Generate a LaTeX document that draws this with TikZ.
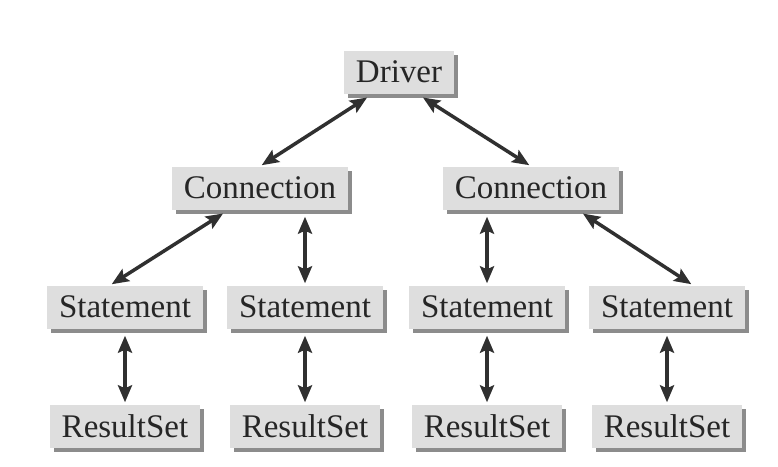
\documentclass[tikz,border=0pt]{standalone}
\usepackage{fontspec}
\setmainfont{Liberation Serif}
\usetikzlibrary{arrows.meta,shadows,calc}
\definecolor{boxgray}{HTML}{DEDEDE}
\definecolor{shadegray}{HTML}{8C8C8C}
\definecolor{txtgray}{HTML}{262626}
\definecolor{arrgray}{HTML}{303030}
\begin{document}
\begin{tikzpicture}[x=1pt,y=-1pt,
	box/.style={fill=boxgray,text=txtgray,inner xsep=12pt,minimum height=43pt,
		font=\fontsize{33}{39}\selectfont,
		drop shadow={shadow xshift=4pt,shadow yshift=-4pt,fill=shadegray,opacity=1}},
	link/.style={{Stealth[length=17pt,width=14pt,inset=3pt]}-{Stealth[length=17pt,width=14pt,inset=3pt]},
		line width=3.5pt,draw=arrgray,shorten <=7pt,shorten >=2pt}]
		\useasboundingbox (0,0) rectangle (778,466);
		\node[box] (drv) at (399,72) {Driver};
		\node[box] (con1) at (260,188) {Connection};
		\node[box] (con2) at (531,188) {Connection};
		\foreach \i/\x in {1/125,2/305,3/487,4/667}{
			\node[box] (st\i) at (\x,307) {Statement};
			\node[box] (rs\i) at (\x,426) {ResultSet};
			\draw[link] (st\i.south) -- (rs\i.north);
		}
		\draw[link] ($(drv.south)+(-26,0)$) -- (con1.north);
		\draw[link] ($(drv.south)+(18,0)$) -- (con2.north);
		\draw[link] ($(con1.south)+(-31,0)$) -- ($(st1.north)+(-15,0)$);
		\draw[link] (st2.north |- con1.south) -- (st2.north);
		\draw[link] (st3.north |- con2.south) -- (st3.north);
		\draw[link] ($(con2.south)+(46,0)$) -- ($(st4.north)+(26,0)$);
\end{tikzpicture}
\end{document}
